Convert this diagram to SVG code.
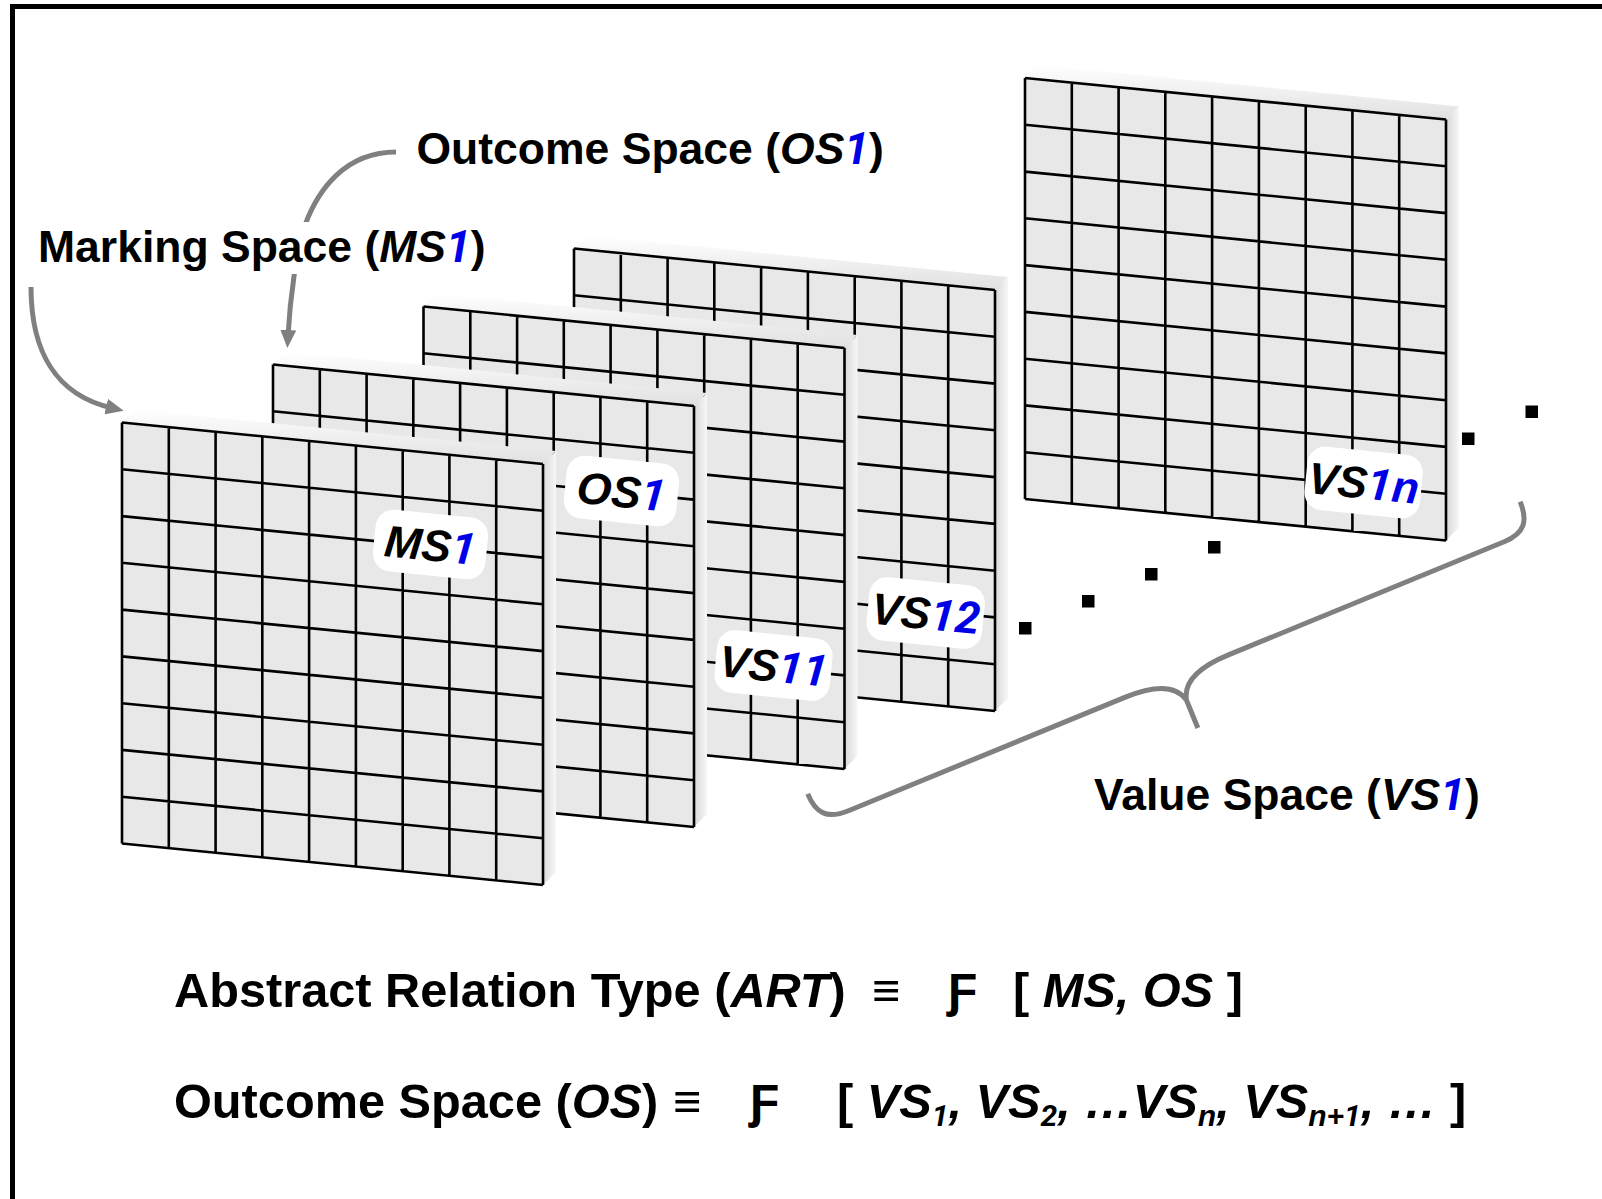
<svg xmlns="http://www.w3.org/2000/svg" width="1602" height="1199" viewBox="0 0 1602 1199">
<style>
.txt{font-family:"Liberation Sans",Arial,"DejaVu Sans",sans-serif;font-weight:bold;fill:#000}
.hd{font-size:44.5px}
.fm{font-size:48.7px}
.it{font-style:italic}
.blue{fill:#0000e6}
.dg{font-family:Roboto,"Liberation Sans",Arial,sans-serif}
.sub{font-size:30px}
.tag{font-family:"Liberation Sans",Arial,sans-serif;font-weight:bold;font-style:italic;font-size:44.5px;fill:#000}
.tagbox{fill:#fff}
.grid{fill:none;stroke:#000;stroke-width:2.6}
.conn{fill:none;stroke:#808080;stroke-width:5}
.dot{fill:#000}
</style>
<defs>
<linearGradient id="gTop" x1="0" y1="0" x2="0" y2="1">
<stop offset="0" stop-color="#ffffff"/>
<stop offset="1" stop-color="#e0e0e0"/>
</linearGradient>
<linearGradient id="gRight" x1="0" y1="0" x2="1" y2="0">
<stop offset="0" stop-color="#d8d8d8"/>
<stop offset="1" stop-color="#f7f7f7"/>
</linearGradient>
<marker id="ah" viewBox="0 0 18 16" markerUnits="userSpaceOnUse" markerWidth="18" markerHeight="16" refX="6" refY="8" orient="auto">
<path d="M0,0 L18,8 L0,16 z" fill="#808080"/>
</marker>
<g id="panel">
<polygon points="0,0 13,-13 434,28.5 421,41.5" fill="url(#gTop)"/>
<polygon points="421,41.5 434,28.5 434,449.5 421,462.5" fill="url(#gRight)"/>
<polygon points="0,0 421,41.5 421,462.5 0,421" fill="#e8e8e8"/>
<path class="grid" d="M0,0V421 M46.8,4.6V425.6 M93.6,9.2V430.2 M140.3,13.8V434.8 M187.1,18.4V439.4 M233.9,23.1V444.1 M280.7,27.7V448.7 M327.4,32.3V453.3 M374.2,36.9V457.9 M421,41.5V462.5 M0,0L421,41.5 M0,46.8L421,88.3 M0,93.6L421,135.1 M0,140.3L421,181.8 M0,187.1L421,228.6 M0,233.9L421,275.4 M0,280.7L421,322.2 M0,327.4L421,368.9 M0,374.2L421,415.7 M0,421L421,462.5"/>
</g>
</defs>
<rect x="0" y="0" width="1602" height="1199" fill="#fff"/>
<rect x="12.5" y="6.5" width="1700" height="1300" fill="none" stroke="#000" stroke-width="5"/>

<g id="panel-vs1n">
<use href="#panel" transform="translate(1025,78)"/>
<g transform="translate(1363.7,482.5) rotate(5.7)">
<rect class="tagbox" x="-58" y="-32" width="116" height="64" rx="18"/>
<text class="tag" x="0" y="16" text-anchor="middle">VS<tspan class="blue"><tspan class="dg">1</tspan>n</tspan></text>
</g>
</g>

<g id="panel-vs12">
<use href="#panel" transform="translate(574,248.5)"/>
<g transform="translate(925.7,613) rotate(5.7)">
<rect class="tagbox" x="-58" y="-32" width="116" height="64" rx="18"/>
<text class="tag" x="0" y="16" text-anchor="middle">VS<tspan class="blue dg">12</tspan></text>
</g>
</g>

<g id="panel-vs11">
<use href="#panel" transform="translate(423.5,306.5)"/>
<g transform="translate(773.5,665.5) rotate(5.7)">
<rect class="tagbox" x="-58" y="-31.5" width="116" height="63" rx="18"/>
<text class="tag" x="0" y="16" text-anchor="middle">VS<tspan class="blue dg">11</tspan></text>
</g>
</g>

<g id="panel-os1">
<use href="#panel" transform="translate(273,364.5)"/>
<g transform="translate(621.5,491) rotate(5.7)">
<rect class="tagbox" x="-56.5" y="-31.5" width="113" height="63" rx="18"/>
<text class="tag" x="0" y="16" text-anchor="middle">OS<tspan class="blue dg">1</tspan></text>
</g>
</g>

<g id="panel-ms1">
<use href="#panel" transform="translate(122,422.5)"/>
<g transform="translate(430.5,544.5) rotate(5.7)">
<rect class="tagbox" x="-56.5" y="-31" width="113" height="62" rx="18"/>
<text class="tag" x="0" y="16" text-anchor="middle">MS<tspan class="blue dg">1</tspan></text>
</g>
</g>

<g id="ellipsis-dots">
<rect class="dot" x="1019" y="622" width="12.5" height="12.5"/>
<rect class="dot" x="1082" y="595" width="12.5" height="12.5"/>
<rect class="dot" x="1145" y="568" width="12.5" height="12.5"/>
<rect class="dot" x="1208" y="541" width="12.5" height="12.5"/>
<rect class="dot" x="1462" y="432.5" width="12.5" height="12.5"/>
<rect class="dot" x="1525.5" y="405.5" width="12.5" height="12.5"/>
</g>

<g id="connectors">
<path class="conn" d="M396,152 C345,152 318,190 305,225 C296,252 290,300 288,336" marker-end="url(#ah)"/>
<path class="conn" d="M31,287 C31,350 55,395 112,408" marker-end="url(#ah)"/>
<path class="conn" transform="translate(819.5,822.6) rotate(-22.3)" d="M0,-31 C0,-10 8,0 32,0 L330,0 C362,0 382,8 386,26 L386,56 M386,26 C390,8 410,0 442,0 L740,0 C762,0 770,-10 770,-31"/>
</g>

<g id="label-os">
<text class="txt hd" x="416.5" y="163.5">Outcome Space (<tspan class="it">OS</tspan><tspan class="it blue dg">1</tspan>)</text>
</g>
<g id="label-ms">
<rect x="36" y="222" width="450" height="52" fill="#fff"/>
<text class="txt hd" x="38" y="261.5">Marking Space (<tspan class="it">MS</tspan><tspan class="it blue dg">1</tspan>)</text>
</g>
<g id="label-vs">
<text class="txt hd" x="1094" y="810">Value Space (<tspan class="it">VS</tspan><tspan class="it blue dg">1</tspan>)</text>
</g>

<g id="formula-art">
<text class="txt fm" x="174" y="1007">Abstract Relation Type (<tspan class="it">ART</tspan>)</text>
<text class="txt fm" x="872" y="1007">≡</text>
<text class="txt" style="font-size:48px" x="948" y="1007">Ƒ</text>
<text class="txt fm" x="1013" y="1007">[ <tspan class="it">MS, OS</tspan> ]</text>
</g>
<g id="formula-os">
<text class="txt fm" x="174" y="1118">Outcome Space (<tspan class="it">OS</tspan>)</text>
<text class="txt fm" x="673" y="1118">≡</text>
<text class="txt" style="font-size:48px" x="750" y="1118">Ƒ</text>
<text class="txt fm" x="837" y="1118">[ <tspan class="it">VS<tspan class="sub dg" dy="8">1</tspan><tspan dy="-8">, VS</tspan><tspan class="sub dg" dy="8">2</tspan><tspan dy="-8">, …VS</tspan><tspan class="sub" dy="8">n</tspan><tspan dy="-8">, VS</tspan><tspan class="sub" dy="8">n+<tspan class="dg">1</tspan></tspan><tspan dy="-8">, …</tspan></tspan> ]</text>
</g>
</svg>
